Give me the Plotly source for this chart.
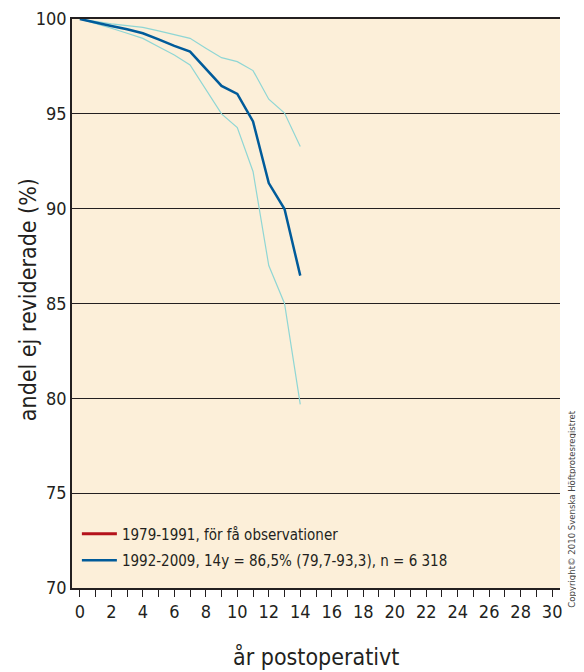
import plotly.graph_objects as go

# years after operation
years = list(range(0, 15))
# 1992-2009 survival (%) and 95% CI
survival = [100, 99.8, 99.63, 99.46, 99.25, 98.93, 98.58, 98.28, 97.4, 96.47, 96.05, 94.6, 91.35, 89.98, 86.47]
upper = [100, 99.86, 99.74, 99.65, 99.56, 99.37, 99.19, 98.98, 98.46, 97.96, 97.75, 97.28, 95.77, 95.04, 93.28]
lower = [100, 99.77, 99.51, 99.25, 98.98, 98.54, 98.1, 97.58, 96.3, 95.0, 94.28, 91.96, 87.0, 85.0, 79.68]

legend_old = "1979-1991, för få observationer"
legend_new = "1992-2009, 14y = 86,5% (79,7-93,3), n = 6 318"

font_family = "DejaVu Sans Condensed, sans-serif"
txt = "#231f20"

fig = go.Figure()
fig.add_trace(go.Scatter(x=[None], y=[None], mode="lines", name=legend_old, legendgroup="a",
                         line=dict(color="#b5121b", width=3)))
fig.add_trace(go.Scatter(x=years, y=upper, mode="lines", showlegend=False,
                         line=dict(color="#8fd6d4", width=1.2)))
fig.add_trace(go.Scatter(x=years, y=lower, mode="lines", showlegend=False,
                         line=dict(color="#8fd6d4", width=1.2)))
fig.add_trace(go.Scatter(x=years, y=survival, mode="lines", name=legend_new, legendgroup="b",
                         line=dict(color="#005b9a", width=2.5)))

fig.update_layout(
    width=584, height=672,
    # the page puts the figure 8px in from the top-left corner
    margin=dict(l=64, r=32, t=11, b=92, autoexpand=False),
    paper_bgcolor="white",
    plot_bgcolor="#fcefd9",
    font=dict(family=font_family, color=txt, size=18),
    legend=dict(x=0.01, y=0.02, xanchor="left", yanchor="bottom", traceorder="grouped",
                bgcolor="rgba(0,0,0,0)", font=dict(size=15), tracegroupgap=4, itemwidth=35),
    xaxis=dict(range=[-0.5, 30.5], tickmode="linear", tick0=0, dtick=2,
               ticks="outside", ticklen=7, tickcolor=txt, showgrid=False, automargin=False,
               showline=True, linecolor=txt, linewidth=1.5, mirror=True, zeroline=False,
               minor=dict(tickmode="linear", tick0=0, dtick=1, ticks="outside", ticklen=7, tickcolor=txt)),
    xaxis2=dict(range=[-0.5, 30.5], overlaying="x", anchor="y", side="bottom",
                tickmode="linear", tick0=0, dtick=1, ticks="inside", ticklen=7, tickcolor=txt,
                showticklabels=False, showgrid=False, zeroline=False, showline=False, automargin=False),
    yaxis=dict(range=[70, 100], tickmode="linear", tick0=70, dtick=5, automargin=False,
               ticklabeloverflow="allow",
               showgrid=True, gridcolor=txt, gridwidth=1, zeroline=False,
               showline=True, linecolor=txt, linewidth=1.5, ticks=""),
)

fig.add_annotation(text="år postoperativt", xref="paper", yref="paper", x=0.5, y=-0.121,
                   xanchor="center", yanchor="middle", showarrow=False, font=dict(size=23))
fig.add_annotation(text="andel ej reviderade (%)", textangle=-90, xref="paper", yref="paper",
                   x=-0.09, y=0.506, xanchor="center", yanchor="middle", showarrow=False,
                   font=dict(size=23))
fig.add_annotation(text="Copyright© 2010 Svenska Höftprotesregistret", textangle=-90,
                   xref="paper", yref="paper", x=1.0246, y=-0.039, xanchor="center", yanchor="bottom",
                   showarrow=False, font=dict(size=9.5, color="#444"))

fig.write_html("out.html")
